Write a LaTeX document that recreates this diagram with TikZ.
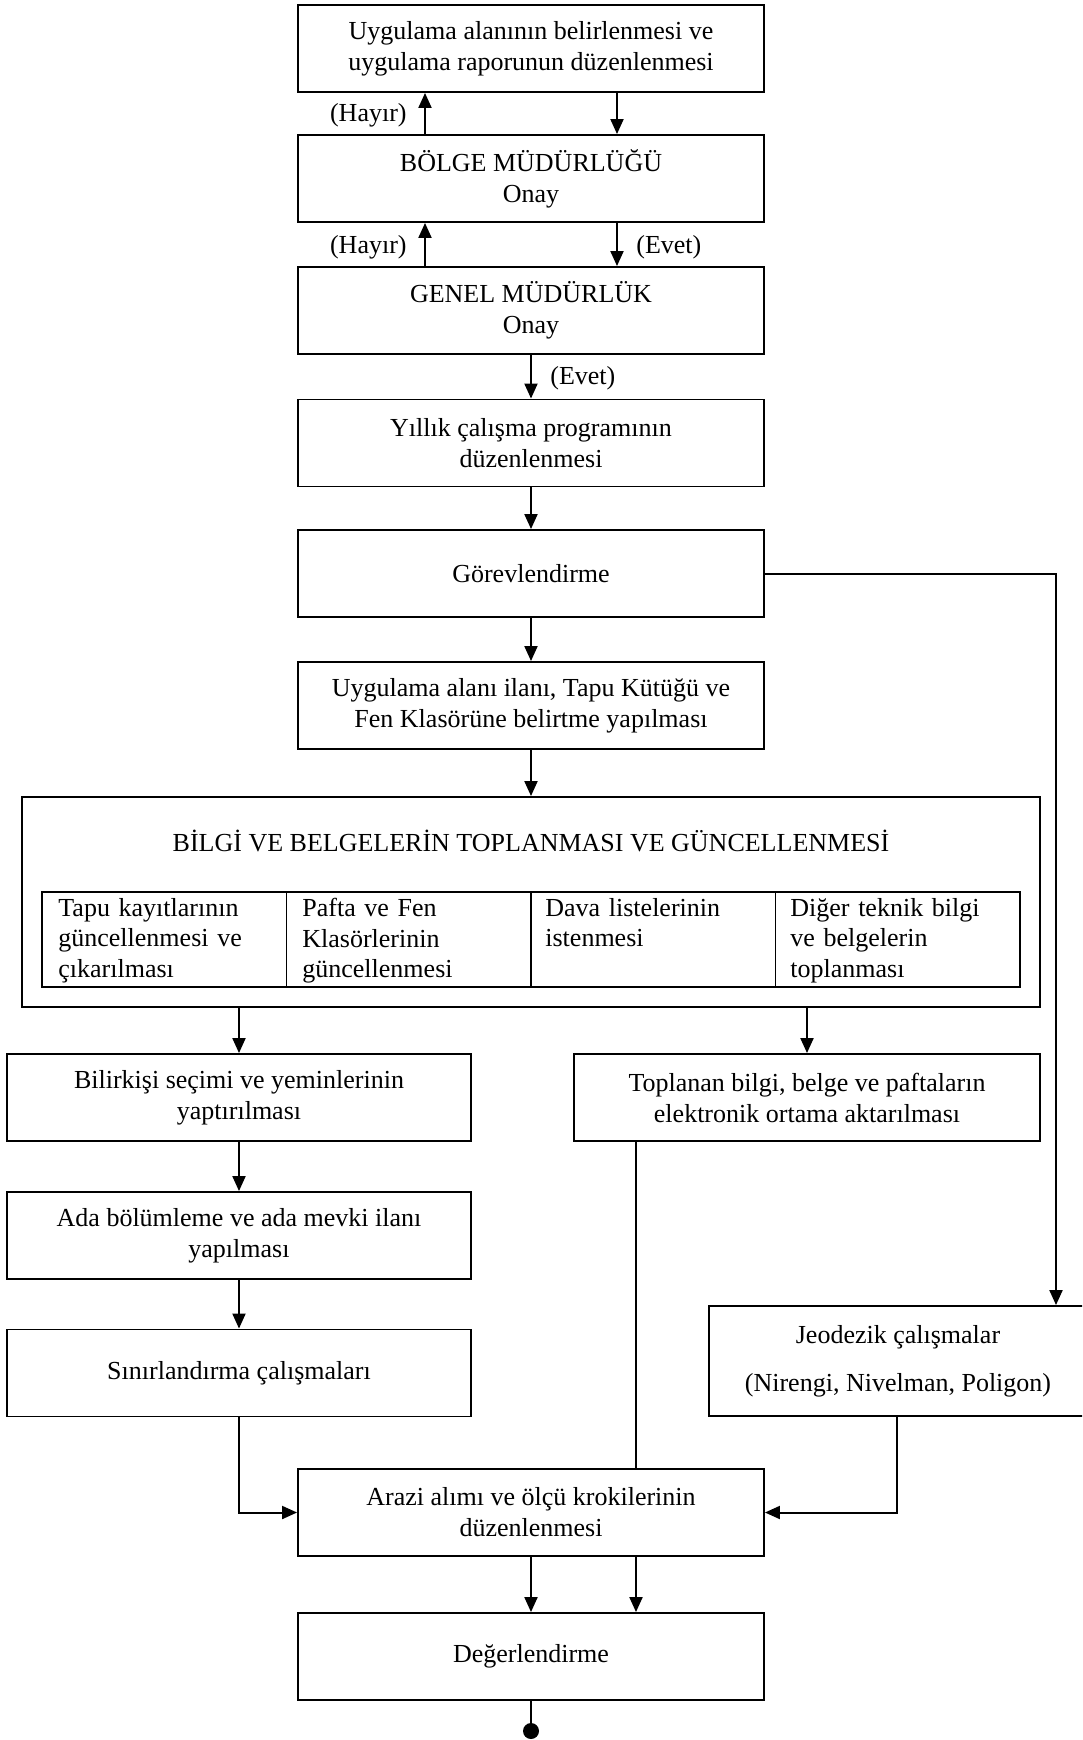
\documentclass[tikz,border=0pt]{standalone}
\usepackage{fontspec}
\setmainfont{Liberation Serif}
\usetikzlibrary{arrows.meta,calc}

\tikzset{
  box/.style={draw, line width=0.95pt, align=center, inner sep=0pt,
              minimum width=233pt, minimum height=43.5pt},
  cell/.style={draw, line width=0.95pt, inner sep=0pt,
               minimum width=122.25pt, minimum height=47.5pt},
  celltext/.style={anchor=north west, inner sep=0pt, align=left, text width=110pt,
                   font=\fontsize{13}{15.25}\selectfont},
  lbl/.style={inner sep=0pt},
  line/.style={line width=1pt},
  arr/.style={line width=1pt, -{Triangle[length=7.5pt,width=6.5pt]}},
}

\begin{document}
\begin{tikzpicture}[x=0.5pt, y=-0.5pt,
  every node/.append style={font=\fontsize{13}{15.5}\selectfont}]
\useasboundingbox (0,0) rectangle (1082,1740);
\clip (0,0) rectangle (1082,1740);

% columns used by the connectors
\coordinate (cL) at (425,0);
\coordinate (cR) at (617,0);
\coordinate (cS) at (636,0);
\coordinate (cG) at (1056,0);
\coordinate (cJ) at (897,0);

% main column
\node[box] (b1) at (531,48.5) {Uygulama alanının belirlenmesi ve\\uygulama raporunun düzenlenmesi};
\node[box] (b2) at (531,178.5) {BÖLGE MÜDÜRLÜĞÜ\\Onay};
\node[box] (b3) at (531,310.5) {GENEL MÜDÜRLÜK\\Onay};
\node[box] (b4) at (531,443) {Yıllık çalışma programının\\düzenlenmesi};
\node[box] (b5) at (531,573.5) {Görevlendirme};
\node[box] (b6) at (531,705.5) {Uygulama alanı ilanı, Tapu Kütüğü ve\\Fen Klasörüne belirtme yapılması};

% collection of information and documents
\node[box, minimum width=509pt, minimum height=105pt] (big) at (531,902) {};
\node[lbl] (bigt) at (531,841) {BİLGİ VE BELGELERİN TOPLANMASI VE GÜNCELLENMESİ};
\node[cell] (c1) at (164.25,939.5) {};
\node[cell] (c2) at (408.75,939.5) {};
\node[cell] (c3) at (653.25,939.5) {};
\node[cell] (c4) at (897.75,939.5) {};
\node[celltext] (t1) at (58,898) {Tapu kayıtlarının\\güncellenmesi ve\\çıkarılması};
\node[celltext] (t2) at (302,898) {Pafta ve Fen\\Klasörlerinin\\güncellenmesi};
\node[celltext] (t3) at (545,898) {Dava listelerinin\\istenmesi};
\node[celltext] (t4) at (790,898) {Diğer teknik bilgi\\ve belgelerin\\toplanması};

% left branch
\node[box, minimum width=232pt] (k1) at (239,1097.5) {Bilirkişi seçimi ve yeminlerinin\\yaptırılması};
\node[box, minimum width=232pt] (k2) at (239,1235.5) {Ada bölümleme ve ada mevki ilanı\\yapılması};
\node[box, minimum width=232pt] (k3) at (239,1373) {Sınırlandırma çalışmaları};

% right branch
\node[box] (tp) at (807,1097.5) {Toplanan bilgi, belge ve paftaların\\elektronik ortama aktarılması};
\node[box, minimum width=189pt, minimum height=55pt] (jd) at (898,1361)
  {Jeodezik çalışmalar\\[8.5pt](Nirengi, Nivelman, Poligon)};

% final steps
\node[box] (ar) at (531,1512.5) {Arazi alımı ve ölçü krokilerinin\\düzenlenmesi};
\node[box] (dg) at (531,1656.5) {Değerlendirme};
\node[circle, fill, inner sep=0pt, minimum size=8pt] (end) at (531,1731) {};

% decision labels
\node[lbl, anchor=east] (h1) at (407,115) {(Hayır)};
\node[lbl, anchor=east] (h2) at (407,247) {(Hayır)};
\node[lbl, anchor=west] (e1) at (636,247) {(Evet)};
\node[lbl, anchor=west] (e2) at (550,378) {(Evet)};

% connectors
\draw[arr] (b1.south -| cR) -- (b2.north -| cR);
\draw[arr] (b2.north -| cL) -- (b1.south -| cL);
\draw[arr] (b2.south -| cR) -- (b3.north -| cR);
\draw[arr] (b3.north -| cL) -- (b2.south -| cL);
\draw[arr] (b3) -- (b4);
\draw[arr] (b4) -- (b5);
\draw[arr] (b5) -- (b6);
\draw[arr] (b6) -- (big);
\draw[arr] (b5.east) -| (jd.north -| cG);
\draw[arr] (big.south -| k1.north) -- (k1.north);
\draw[arr] (big.south -| tp.north) -- (tp.north);
\draw[arr] (k1) -- (k2);
\draw[arr] (k2) -- (k3);
\draw[arr] (k3.south) |- (ar.west);
\draw[arr] (jd.south -| cJ) |- (ar.east);
\draw[line] (tp.south -| cS) -- (ar.north -| cS);
\draw[arr] (ar) -- (dg);
\draw[arr] (ar.south -| cS) -- (dg.north -| cS);
\draw[line] (dg) -- (end);
\end{tikzpicture}
\end{document}
